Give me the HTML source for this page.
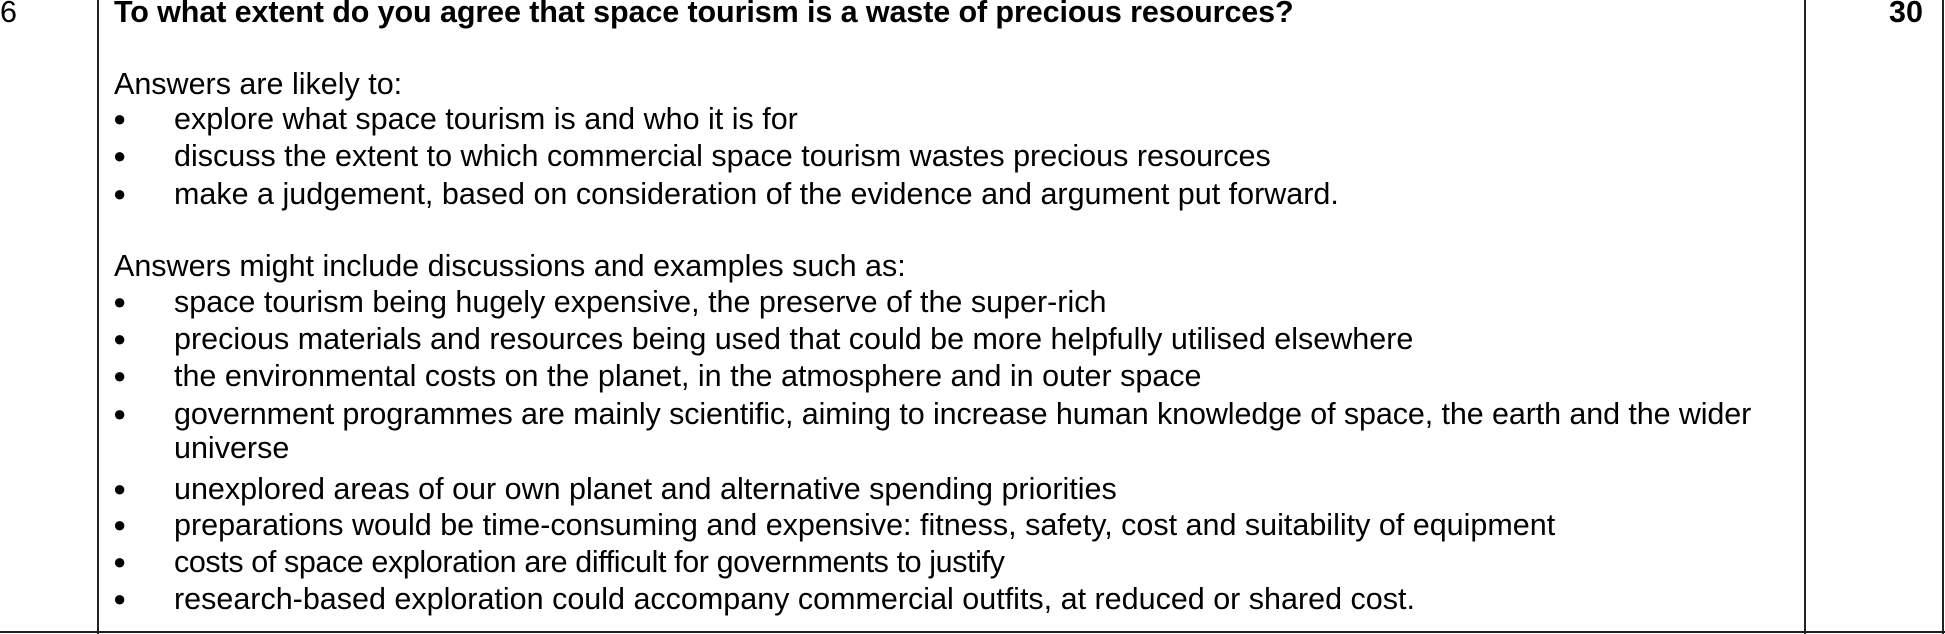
<!DOCTYPE html>
<html><head><meta charset="utf-8"><style>
body{margin:0;width:1945px;height:634px;background:#fff;position:relative;overflow:hidden;font-family:"Liberation Sans",Arial,sans-serif;color:#000}
.l{position:absolute;font-size:30.5px;line-height:36px;white-space:nowrap}
.b{position:absolute;left:113px;font-size:22px;line-height:36px}
.v{position:absolute;top:0;width:2px;background:#222}
</style></head><body>
<div class="v" style="left:97px;height:634px"></div>
<div class="v" style="left:1804px;height:634px"></div>
<div class="v" style="left:1942px;height:634px"></div>
<div style="position:absolute;left:0;top:631px;width:1945px;height:2px;background:#222"></div>
<div class="l" style="left:0px;top:-6px">6</div>
<div class="l" style="left:1889px;top:-6px;font-weight:bold">30</div>
<div class="l" style="left:114px;top:-6px;font-weight:bold;letter-spacing:-0.1px">To what extent do you agree that space tourism is a waste of precious resources?</div>
<div class="l" style="left:114px;top:66px">Answers are likely to:</div>
<div class="b" style="top:101px">●</div><div class="l" style="left:174px;top:101px">explore what space tourism is and who it is for</div>
<div class="b" style="top:138px">●</div><div class="l" style="left:174px;top:138px">discuss the extent to which commercial space tourism wastes precious resources</div>
<div class="b" style="top:176px">●</div><div class="l" style="left:174px;top:176px">make a judgement, based on consideration of the evidence and argument put forward.</div>
<div class="l" style="left:114px;top:248px">Answers might include discussions and examples such as:</div>
<div class="b" style="top:284px">●</div><div class="l" style="left:174px;top:284px">space tourism being hugely expensive, the preserve of the super-rich</div>
<div class="b" style="top:321px">●</div><div class="l" style="left:174px;top:321px">precious materials and resources being used that could be more helpfully utilised elsewhere</div>
<div class="b" style="top:358px">●</div><div class="l" style="left:174px;top:358px">the environmental costs on the planet, in the atmosphere and in outer space</div>
<div class="b" style="top:396px">●</div><div class="l" style="left:174px;top:396px;letter-spacing:-0.1px">government programmes are mainly scientific, aiming to increase human knowledge of space, the earth and the wider</div>
<div class="l" style="left:174px;top:430px">universe</div>
<div class="b" style="top:471px">●</div><div class="l" style="left:174px;top:471px">unexplored areas of our own planet and alternative spending priorities</div>
<div class="b" style="top:507px">●</div><div class="l" style="left:174px;top:507px">preparations would be time-consuming and expensive: fitness, safety, cost and suitability of equipment</div>
<div class="b" style="top:544px">●</div><div class="l" style="left:174px;top:544px;letter-spacing:-0.4px">costs of space exploration are difficult for governments to justify</div>
<div class="b" style="top:581px">●</div><div class="l" style="left:174px;top:581px">research-based exploration could accompany commercial outfits, at reduced or shared cost.</div>
</body></html>
